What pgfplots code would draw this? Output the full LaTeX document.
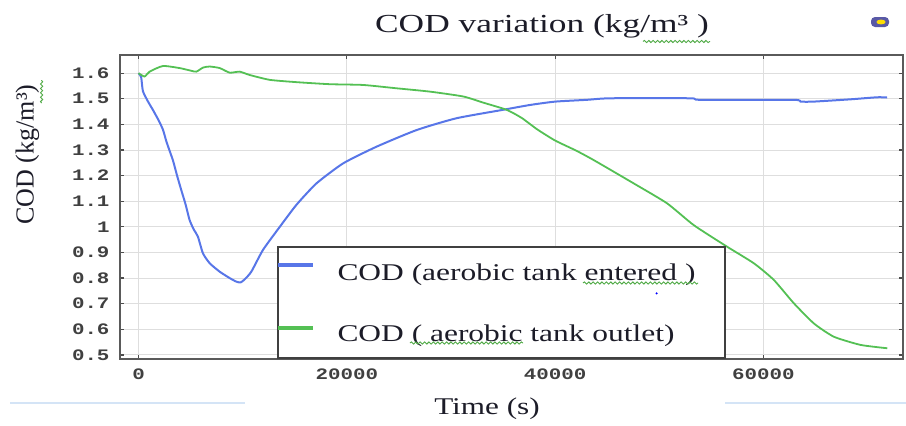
\documentclass[border=0pt]{standalone}
\usepackage{fontspec}
\setmainfont{Liberation Serif}
\newfontfamily\tickfont{Liberation Mono}
\usepackage{pgfplots}
\pgfplotsset{compat=1.18}
\usetikzlibrary{decorations.pathmorphing}
\definecolor{cblue}{RGB}{88,118,232}
\definecolor{cgreen}{RGB}{84,192,84}
\definecolor{txt}{RGB}{28,28,40}
\definecolor{tickc}{RGB}{64,64,64}
\definecolor{frame}{RGB}{90,90,90}
\definecolor{paleblue}{RGB}{212,228,246}
\definecolor{squig}{RGB}{80,170,70}
\tikzset{squiggle/.style={squig, line width=0.45pt, decorate,
  decoration={snake, amplitude=0.55pt, segment length=2.2pt}}}

\begin{document}
\begin{tikzpicture}
\useasboundingbox (0,0) rectangle (453pt,212.5pt);
\begin{axis}[at={(60pt,33pt)}, anchor=south west, scale only axis,
  width=391.5pt, height=152pt,
  xmin=-1780, xmax=73400, ymin=0.484, ymax=1.671,
  xtick={0,20000,40000,60000},
  ytick={0.5,0.6,0.7,0.8,0.9,1,1.1,1.2,1.3,1.4,1.5,1.6},
  scaled x ticks=false,
  /pgf/number format/.cd, fixed, 1000 sep={}, assume math mode=true, /pgfplots/.cd,
  grid=major, major grid style={draw=black!13, line width=0.5pt},
  axis line style={draw=frame, line width=0.8pt},
  tick align=inside, major tick length=2pt,
  major tick style={draw=black!70, line width=0.6pt},
  ticklabel style={font=\tickfont\bfseries\fontsize{8}{9}\selectfont, text=tickc, inner sep=0pt},
  xticklabel style={yshift=-4.5pt, xscale=1.3},
  yticklabel style={xshift=-5pt, xscale=1.3},
]
\addplot[cblue, line width=1pt, smooth, tension=0.35] coordinates {
(0,1.600) (250,1.585) (420,1.530) (900,1.490) (1375,1.457) (1900,1.418)
(2340,1.380) (2700,1.330) (3300,1.260) (3700,1.200) (4100,1.144) (4500,1.090)
(4900,1.027) (5300,0.990) (5700,0.962) (6180,0.897) (6830,0.858) (7790,0.825)
(8750,0.800) (9390,0.786) (9800,0.783) (10190,0.795) (10830,0.825) (11950,0.910)
(13560,1.000) (15160,1.086) (17090,1.170) (19650,1.248) (22850,1.313) (26700,1.378)
(30520,1.424) (35000,1.457) (37600,1.476) (40000,1.489) (43050,1.496) (45290,1.502)
(52980,1.502) (53940,1.496) (62880,1.496) (63560,1.489) (64800,1.489) (68370,1.498)
(70930,1.506) (71880,1.505)
};
\addplot[cgreen, line width=0.9pt, smooth, tension=0.35] coordinates {
(0,1.600) (580,1.587) (1060,1.606) (2340,1.628) (3940,1.620) (5000,1.610)
(5550,1.606) (6200,1.622) (6830,1.626) (7790,1.620) (8750,1.602) (9710,1.606)
(10670,1.593) (12600,1.574) (15160,1.565) (18370,1.557) (21570,1.554) (24780,1.541)
(27980,1.528) (31180,1.509) (33100,1.485) (35340,1.457) (36800,1.425) (38300,1.380)
(40000,1.337) (42000,1.298) (43690,1.261) (47530,1.170) (50740,1.092) (53300,1.007)
(56490,0.923) (59070,0.858) (60990,0.793) (62910,0.702) (64840,0.623) (66760,0.571)
(69330,0.539) (71890,0.526)
};
\end{axis}

% legend
\draw[draw=black!75, line width=0.8pt, fill=white] (139pt,33.5pt) rectangle (362.5pt,89pt);
\draw[cblue, line width=1.6pt] (139pt,80pt) -- (156.5pt,80pt);
\draw[cgreen, line width=1.6pt] (139pt,48.5pt) -- (156.5pt,48.5pt);
\node[anchor=base west, inner sep=0pt, xscale=1.31, text=txt, font=\fontsize{12}{14}\selectfont]
  at (168.5pt,72.5pt) {COD (aerobic tank entered )};
\node[anchor=base west, inner sep=0pt, xscale=1.31, text=txt, font=\fontsize{12}{14}\selectfont]
  at (168.5pt,41.7pt) {COD ( aerobic tank outlet)};
\fill[blue] (328.3pt,65.8pt) circle (0.6pt);

% titles
\node[anchor=base, inner sep=0pt, xscale=1.36, text=txt, font=\fontsize{13}{15}\selectfont]
  at (271pt,196.5pt) {COD variation (kg/m³ )};
\node[anchor=base, inner sep=0pt, xscale=1.3, text=txt, font=\fontsize{12}{14}\selectfont]
  at (243.5pt,5.5pt) {Time (s)};
\node[rotate=90, inner sep=0pt, text=txt, font=\fontsize{13}{15}\selectfont]
  at (13.75pt,135.25pt) {COD (kg/m³)};

% spell-check squiggles and page artefacts
\draw[squiggle] (321.5pt,191.75pt) -- (355pt,191.75pt);
\draw[squiggle] (291.5pt,71pt) -- (349pt,71pt);
\draw[squiggle] (205pt,41pt) -- (261.5pt,41pt);
\draw[squiggle] (20.8pt,161pt) -- (20.8pt,172.5pt);
\draw[paleblue, line width=1pt] (5pt,11pt) -- (122.5pt,11pt);
\draw[paleblue, line width=1pt] (362.5pt,11pt) -- (453pt,11pt);
\fill[blue!30!gray, rounded corners=2pt] (435.5pt,199pt) rectangle (444.5pt,204pt);
\fill[yellow!80!orange] (440.5pt,201.5pt) ellipse (2.3pt and 1.2pt);
\end{tikzpicture}
\end{document}
